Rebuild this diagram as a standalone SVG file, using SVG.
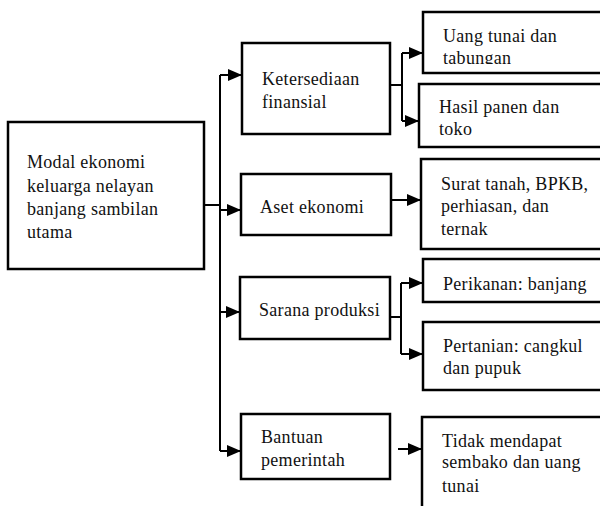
<svg xmlns="http://www.w3.org/2000/svg" width="600" height="506" viewBox="0 0 600 506">
<style>
.box{fill:#fff;stroke:#000;stroke-width:2.5}
.lbl{font-family:"Liberation Serif","Times New Roman",serif;font-size:18px;letter-spacing:0.3px;fill:#111}
.con{fill:none;stroke:#000;stroke-width:2}
</style>
<defs>
<marker id="arr" markerUnits="userSpaceOnUse" markerWidth="14" markerHeight="12" refX="14" refY="6" orient="auto">
<path d="M0,0 L14,6 L0,12 z" fill="#000"/>
</marker>
<clipPath id="clipUang"><rect x="423" y="12" width="190" height="52"/></clipPath>
</defs>
<rect width="600" height="506" fill="#fff"/>
<g id="connectors">
<path class="con" d="M204,205 H220"/>
<path class="con" d="M220,75 V451"/>
<path class="con" d="M220,75 H242" marker-end="url(#arr)"/>
<path class="con" d="M220,210 H241" marker-end="url(#arr)"/>
<path class="con" d="M220,312 H240" marker-end="url(#arr)"/>
<path class="con" d="M220,451 H241" marker-end="url(#arr)"/>
<path class="con" d="M390,85 H402 M402,53 V121"/>
<path class="con" d="M402,53 H423" marker-end="url(#arr)"/>
<path class="con" d="M402,121 H419" marker-end="url(#arr)"/>
<path class="con" d="M392,200 H421" marker-end="url(#arr)"/>
<path class="con" d="M390,317 H401 M401,283 V354"/>
<path class="con" d="M401,283 H423" marker-end="url(#arr)"/>
<path class="con" d="M401,354 H423" marker-end="url(#arr)"/>
<path class="con" d="M398,449 H422" marker-end="url(#arr)"/>
</g>
<g id="node-main">
<rect class="box" x="8" y="122" width="196" height="147"/>
<text class="lbl"><tspan x="27" y="168">Modal ekonomi</tspan><tspan x="27" y="192">keluarga nelayan</tspan><tspan x="27" y="215">banjang sambilan</tspan><tspan x="27" y="238">utama</tspan></text>
</g>
<g id="node-ketersediaan">
<rect class="box" x="242" y="43" width="148" height="91"/>
<text class="lbl"><tspan x="262" y="85">Ketersediaan</tspan><tspan x="262" y="108">finansial</tspan></text>
</g>
<g id="node-aset">
<rect class="box" x="241" y="174" width="150" height="61"/>
<text class="lbl"><tspan x="260" y="213">Aset ekonomi</tspan></text>
</g>
<g id="node-sarana">
<rect class="box" x="240" y="277" width="150" height="62"/>
<text class="lbl"><tspan x="259" y="316">Sarana produksi</tspan></text>
</g>
<g id="node-bantuan">
<rect class="box" x="241" y="414" width="149" height="65"/>
<text class="lbl"><tspan x="261" y="443">Bantuan</tspan><tspan x="261" y="466">pemerintah</tspan></text>
</g>
<g id="node-uang">
<rect class="box" x="423" y="12" width="190" height="61"/>
<text class="lbl" clip-path="url(#clipUang)"><tspan x="443" y="42">Uang tunai dan</tspan><tspan x="443" y="64">tabungan</tspan></text>
</g>
<g id="node-hasil">
<rect class="box" x="419" y="84" width="194" height="63"/>
<text class="lbl"><tspan x="439" y="113">Hasil panen dan</tspan><tspan x="439" y="135">toko</tspan></text>
</g>
<g id="node-surat">
<rect class="box" x="421" y="159" width="192" height="90"/>
<text class="lbl"><tspan x="441" y="190">Surat tanah, BPKB,</tspan><tspan x="441" y="212">perhiasan, dan</tspan><tspan x="441" y="235">ternak</tspan></text>
</g>
<g id="node-perikanan">
<rect class="box" x="423" y="259" width="190" height="43"/>
<text class="lbl"><tspan x="443" y="290">Perikanan: banjang</tspan></text>
</g>
<g id="node-pertanian">
<rect class="box" x="423" y="322" width="190" height="68"/>
<text class="lbl"><tspan x="443" y="352">Pertanian: cangkul</tspan><tspan x="443" y="374">dan pupuk</tspan></text>
</g>
<g id="node-tidak">
<rect class="box" x="422" y="417" width="191" height="103"/>
<text class="lbl"><tspan x="442" y="447">Tidak mendapat</tspan><tspan x="442" y="468">sembako dan uang</tspan><tspan x="442" y="492">tunai</tspan></text>
</g>
</svg>
